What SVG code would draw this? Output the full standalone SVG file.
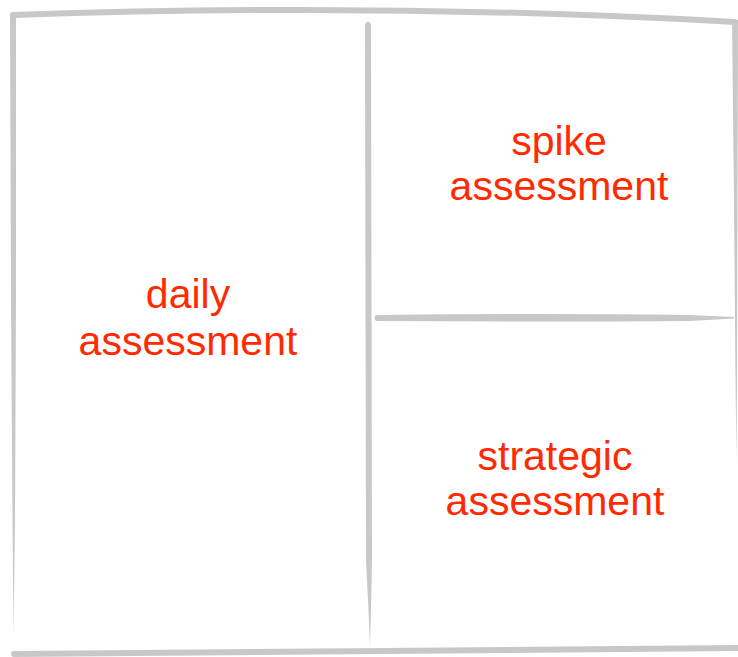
<svg xmlns="http://www.w3.org/2000/svg" width="738" height="657" viewBox="0 0 738 657">
<style>
.ln{fill:none;stroke:#c8c8c8;stroke-width:6;stroke-linecap:round;stroke-linejoin:round}
.sh{fill:#c8c8c8;stroke:none}
.t{font-family:"Liberation Sans",Arial,sans-serif;font-size:41px;fill:#ff2a00;text-anchor:middle}
</style>
<rect width="738" height="657" fill="#ffffff"/>
<g id="frame">
<path class="ln" d="M13 15 Q380 2 735 22"/>
<path class="sh" d="M10 15 L16 15 L16 300 L15 520 L13.5 636 L12.5 520 L11 300 Z"/>
<path class="sh" d="M732 20 L738 20 L737.5 200 L737 380 L736.5 465 L735.5 380 L734 200 Z"/>
<path class="ln" d="M14 654 Q380 650 738 648"/>
</g>
<g id="connectors">
<path class="sh" d="M365 24 Q368 19 371 24 L372 560 L371 610 L370 646 L368.5 610 L366 560 Z"/>
<path class="sh" d="M376 315 Q373 318 376 321 Q540 322 690 321 L734 318.5 L734 317 L690 315 Q540 313 376 315 Z"/>
</g>
<g id="daily">
<text class="t" x="188" y="308">daily</text>
<text class="t" x="188" y="355">assessment</text>
</g>
<g id="spike">
<text class="t" x="559" y="155">spike</text>
<text class="t" x="559" y="200">assessment</text>
</g>
<g id="strategic">
<text class="t" x="555" y="470">strategic</text>
<text class="t" x="555" y="515">assessment</text>
</g>
</svg>
